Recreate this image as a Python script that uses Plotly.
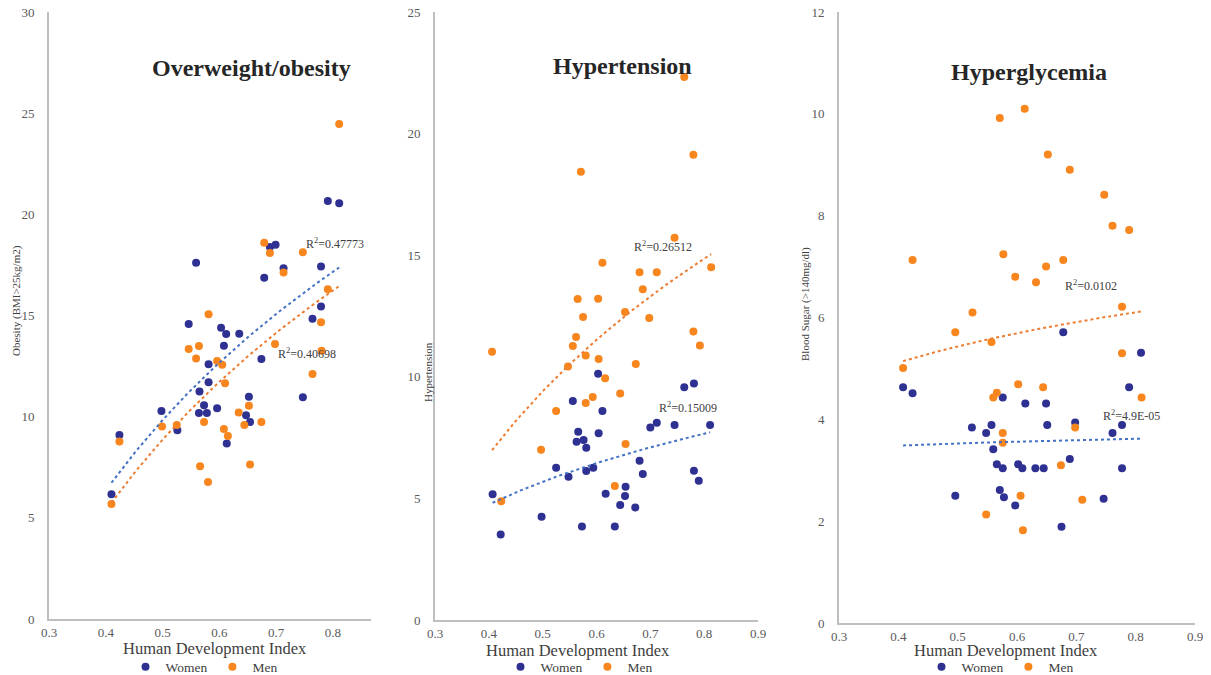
import numpy as np
import plotly.graph_objects as go

# ---------------- data ----------------
obesity_women_hdi = [0.791, 0.811, 0.689, 0.699, 0.559, 0.713, 0.779, 0.679, 0.779, 0.764, 0.546, 0.603,
                     0.612, 0.635, 0.608, 0.581, 0.674, 0.581, 0.565, 0.652, 0.747, 0.573, 0.596, 0.498,
                     0.564, 0.578, 0.647, 0.654, 0.526, 0.424, 0.613, 0.410]
obesity_women = [20.66, 20.55, 18.39, 18.50, 17.61, 17.33, 17.42, 16.86, 15.44, 14.84, 14.58, 14.40,
                 14.09, 14.10, 13.51, 12.59, 12.85, 11.70, 11.24, 10.99, 10.96, 10.56, 10.41, 10.28,
                 10.18, 10.18, 10.07, 9.74, 9.33, 9.10, 8.67, 6.16]
obesity_men_hdi = [0.811, 0.679, 0.689, 0.747, 0.713, 0.791, 0.779, 0.581, 0.546, 0.564, 0.698, 0.780,
                   0.559, 0.596, 0.605, 0.764, 0.610, 0.652, 0.634, 0.573, 0.674, 0.644, 0.499, 0.525,
                   0.608, 0.424, 0.615, 0.566, 0.654, 0.580, 0.410]
obesity_men = [24.47, 18.59, 18.09, 18.13, 17.12, 16.30, 14.67, 15.06, 13.35, 13.49, 13.59, 13.26,
               12.88, 12.75, 12.56, 12.11, 11.65, 10.54, 10.20, 9.74, 9.74, 9.59, 9.52, 9.59,
               9.39, 8.77, 9.05, 7.55, 7.63, 6.77, 5.68]

hyper_women_hdi = [0.603, 0.781, 0.763, 0.556, 0.611, 0.712, 0.700, 0.745, 0.811, 0.566, 0.604, 0.576,
                   0.563, 0.581, 0.680, 0.686, 0.525, 0.594, 0.581, 0.548, 0.781, 0.790, 0.654, 0.617,
                   0.653, 0.407, 0.644, 0.672, 0.498, 0.573, 0.634, 0.422]
hyper_women = [10.13, 9.72, 9.57, 9.01, 8.59, 8.11, 7.92, 8.02, 8.02, 7.74, 7.68, 7.40,
               7.33, 7.08, 6.55, 6.00, 6.26, 6.26, 6.13, 5.89, 6.14, 5.73, 5.48, 5.19,
               5.10, 5.17, 4.73, 4.63, 4.25, 3.84, 3.84, 3.52]
hyper_men_hdi = [0.763, 0.780, 0.571, 0.745, 0.611, 0.680, 0.712, 0.813, 0.686, 0.565, 0.603, 0.653,
                 0.575, 0.698, 0.780, 0.562, 0.792, 0.556, 0.406, 0.580, 0.604, 0.673, 0.547, 0.616,
                 0.644, 0.593, 0.580, 0.525, 0.654, 0.497, 0.634, 0.423]
hyper_men = [22.33, 19.13, 18.43, 15.72, 14.69, 14.30, 14.30, 14.50, 13.60, 13.20, 13.21, 12.66,
             12.46, 12.42, 11.86, 11.64, 11.29, 11.27, 11.03, 10.88, 10.73, 10.53, 10.42, 9.94,
             9.31, 9.17, 8.92, 8.59, 7.24, 7.00, 5.51, 4.88]

glyc_women_hdi = [0.678, 0.809, 0.408, 0.424, 0.789, 0.576, 0.614, 0.649, 0.698, 0.524, 0.557, 0.651,
                  0.777, 0.548, 0.761, 0.560, 0.689, 0.566, 0.602, 0.576, 0.609, 0.631, 0.645, 0.777,
                  0.571, 0.496, 0.578, 0.746, 0.597, 0.675]
glyc_women = [5.71, 5.31, 4.63, 4.51, 4.63, 4.43, 4.31, 4.31, 3.94, 3.84, 3.89, 3.89,
              3.89, 3.73, 3.73, 3.41, 3.22, 3.12, 3.12, 3.04, 3.04, 3.04, 3.04, 3.04,
              2.61, 2.50, 2.47, 2.44, 2.31, 1.89]
glyc_men_hdi = [0.613, 0.571, 0.652, 0.689, 0.747, 0.761, 0.789, 0.424, 0.577, 0.678, 0.649, 0.597,
                0.632, 0.777, 0.525, 0.496, 0.557, 0.777, 0.408, 0.602, 0.644, 0.566, 0.560, 0.810,
                0.698, 0.576, 0.576, 0.674, 0.606, 0.710, 0.548, 0.610]
glyc_men = [10.10, 9.92, 9.20, 8.90, 8.41, 7.80, 7.72, 7.13, 7.24, 7.13, 7.00, 6.80,
            6.69, 6.21, 6.10, 5.71, 5.52, 5.30, 5.01, 4.69, 4.63, 4.52, 4.43, 4.43,
            3.84, 3.73, 3.54, 3.10, 2.50, 2.42, 2.13, 1.82]

titles = ["Overweight/obesity", "Hypertension", "Hyperglycemia"]
y_titles = ["Obesity (BMI>25kg/m2)", "Hypertension", "Blood Sugar (>140mg/dl)"]
x_title = "Human Development Index"
r2_women = ["0.47773", "0.15009", "4.9E-05"]
r2_men = ["0.40698", "0.26512", "0.0102"]
series_names = ["Women", "Men"]

# ---------------- styling ----------------
W, H = 1211, 675
SERIF = "Liberation Serif"
C_WOMEN = "#2E3192"
C_MEN = "#F7861E"
C_TW = "#4472C4"
C_TM = "#ED7D31"
AX = "#BFBFBF"
TXT = "#595959"


def fx(p):
    return p / W


def fy(p):
    return 1 - p / H


# plot-area pixel boxes (left, right, top, bottom)
boxes = [(49, 371, 12, 619), (435, 758, 12, 620), (839, 1195, 12, 623)]
x_ranges = [[0.3, 0.867], [0.3, 0.9], [0.3, 0.9]]
x_ticks = [[0.3, 0.4, 0.5, 0.6, 0.7, 0.8], [0.3, 0.4, 0.5, 0.6, 0.7, 0.8, 0.9], [0.3, 0.4, 0.5, 0.6, 0.7, 0.8, 0.9]]
y_ranges = [[0, 30], [0, 25], [0, 12]]
y_dticks = [5, 5, 2]

data = [
    (obesity_women_hdi, obesity_women, obesity_men_hdi, obesity_men),
    (hyper_women_hdi, hyper_women, hyper_men_hdi, hyper_men),
    (glyc_women_hdi, glyc_women, glyc_men_hdi, glyc_men),
]

fig = go.Figure()


def log_trend(xs, ys):
    xs = np.asarray(xs, float)
    ys = np.asarray(ys, float)
    a, b = np.polyfit(np.log(xs), ys, 1)
    xx = np.linspace(xs.min(), xs.max(), 80)
    return xx, a * np.log(xx) + b


legend_names = ["legend", "legend2", "legend3"]
for i, (wx, wy, mx, my) in enumerate(data):
    xa = "x" if i == 0 else f"x{i+1}"
    ya = "y" if i == 0 else f"y{i+1}"
    lg = legend_names[i]
    fig.add_trace(go.Scatter(x=wx, y=wy, mode="markers", name=series_names[0], xaxis=xa, yaxis=ya,
                             marker=dict(color=C_WOMEN, size=8), legend=lg))
    fig.add_trace(go.Scatter(x=mx, y=my, mode="markers", name=series_names[1], xaxis=xa, yaxis=ya,
                             marker=dict(color=C_MEN, size=8), legend=lg))
    tx, ty = log_trend(wx, wy)
    fig.add_trace(go.Scatter(x=tx, y=ty, mode="lines", xaxis=xa, yaxis=ya, showlegend=False,
                             line=dict(color=C_TW, width=2, dash="dot"), hoverinfo="skip"))
    tx, ty = log_trend(mx, my)
    fig.add_trace(go.Scatter(x=tx, y=ty, mode="lines", xaxis=xa, yaxis=ya, showlegend=False,
                             line=dict(color=C_TM, width=2, dash="dot"), hoverinfo="skip"))

layout = dict(
    width=W, height=H, margin=dict(l=0, r=0, t=0, b=0, autoexpand=False),
    paper_bgcolor="white", plot_bgcolor="white",
    font=dict(family=SERIF, color=TXT),
)

for i, (l, r, t, b) in enumerate(boxes):
    sx = "" if i == 0 else str(i + 1)
    layout[f"xaxis{sx}"] = dict(
        domain=[fx(l), fx(r)], range=x_ranges[i], anchor=f"y{sx}", automargin=False,
        tickvals=x_ticks[i], ticktext=[f"{v:.1f}" for v in x_ticks[i]],
        showline=True, linecolor=AX, linewidth=2, showgrid=False, zeroline=False,
        ticks="", ticklabelstandoff=0, tickfont=dict(family=SERIF, size=13, color=TXT),
    )
    layout[f"yaxis{sx}"] = dict(
        domain=[fy(b), fy(t)], range=y_ranges[i], anchor=f"x{sx}", dtick=y_dticks[i], automargin=False,
        showline=True, linecolor=AX, linewidth=2, showgrid=False, zeroline=False,
        ticks="", ticklabelstandoff=10, tickfont=dict(family=SERIF, size=13, color=TXT),
    )

leg_centers = [204, 579, 1000]
for i, lg in enumerate(legend_names):
    layout[lg] = dict(orientation="h", x=fx(leg_centers[i]), y=fy(667), xanchor="center", yanchor="middle",
                      font=dict(family=SERIF, size=13.5, color="#404040"), itemwidth=30,
                      bgcolor="rgba(0,0,0,0)", tracegroupgap=0, itemclick=False)

fig.update_layout(**layout)

ann = []
title_pos = [(251, 68), (622, 66), (1029, 72)]
for i, (cx, cy) in enumerate(title_pos):
    ann.append(dict(text=f"<b>{titles[i]}</b>", x=fx(cx), y=fy(cy), xref="paper", yref="paper",
                    showarrow=False, font=dict(family=SERIF, size=24, color="#262626"),
                    xanchor="center", yanchor="middle"))

xt_pos = [(215, 648), (578, 650), (1006, 650)]
for i, (cx, cy) in enumerate(xt_pos):
    ann.append(dict(text=x_title, x=fx(cx), y=fy(cy), xref="paper", yref="paper", showarrow=False,
                    font=dict(family=SERIF, size=16.5, color="#404040"), xanchor="center", yanchor="middle"))

yt_pos = [(16, 301), (428, 372), (806, 304)]
for i, (cx, cy) in enumerate(yt_pos):
    ann.append(dict(text=y_titles[i], x=fx(cx), y=fy(cy), xref="paper", yref="paper", showarrow=False,
                    textangle=-90, font=dict(family=SERIF, size=11, color="#404040"),
                    xanchor="center", yanchor="middle"))

r2w_pos = [(335, 243), (688, 407), (1131, 415)]
r2m_pos = [(307, 353), (663, 246), (1091, 285)]
for i in range(3):
    for (cx, cy), val in ((r2w_pos[i], r2_women[i]), (r2m_pos[i], r2_men[i])):
        ann.append(dict(text=f"R<sup>2</sup>=" + val, x=fx(cx), y=fy(cy), xref="paper", yref="paper",
                        showarrow=False, font=dict(family=SERIF, size=12, color="#404040"),
                        xanchor="center", yanchor="middle"))

fig.update_layout(annotations=ann)
fig.write_html("out.html", config={"displayModeBar": False},
               post_script="document.body.style.margin='0';document.body.style.overflow='hidden';")
